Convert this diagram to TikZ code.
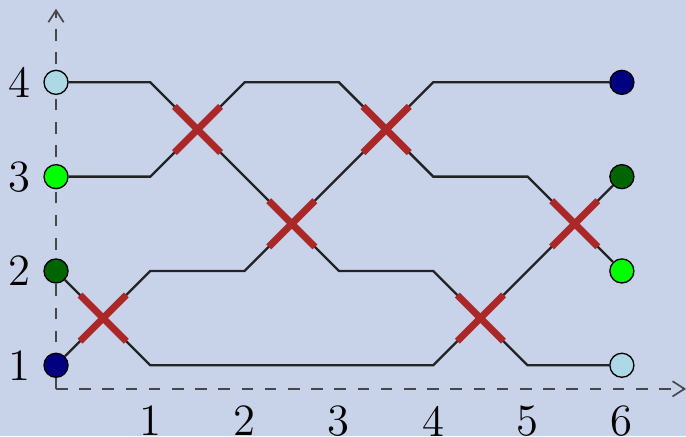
\documentclass[tikz,border=0pt]{standalone}
\usetikzlibrary{arrows.meta,calc}
\definecolor{bgc}{RGB}{200,211,234}
\definecolor{crossred}{RGB}{170,40,40}
\definecolor{axisgray}{RGB}{70,70,75}
\definecolor{wire}{RGB}{35,35,35}
\begin{document}
\begin{tikzpicture}[x=1cm,y=1cm,
  dot/.style={circle,draw=black,line width=0.4pt,inner sep=0pt,minimum size=0.255cm},
  wireline/.style={draw=wire,line width=0.7pt,line join=miter},
  crossbar/.style={draw=crossred,line width=2.1pt},
  axisline/.style={draw=axisgray,line width=0.5pt,dash pattern=on 3.5pt off 3.5pt,-{Straight Barb[length=3.6pt,width=4.6pt]}},
  lab/.style={font=\fontsize{13.5}{15}\selectfont,inner sep=0pt}]
\fill[bgc] (-0.594,0.25) rectangle (6.68,4.873);
\useasboundingbox (-0.594,0.25) rectangle (6.68,4.873);
% axes
\coordinate (o) at (0,0.75);
\coordinate (xe) at (6.68,0.75);
\coordinate (ye) at (0,4.78);
\draw[axisline] (o) -- (xe);
\draw[axisline] (o) -- (ye);
% labels
\foreach \i in {1,...,4} \node[lab] (yl\i) at (-0.39,\i) {\i};
\foreach \i in {1,...,6} \node[lab] (xl\i) at (\i,0.41) {\i};
% grid coordinates
\foreach \x in {1,...,5} \foreach \y in {1,...,4} \coordinate (p\x\y) at (\x,\y);
% endpoint nodes
\node[dot,fill={rgb,255:red,173;green,216;blue,230}] (L4) at (0,4) {};
\node[dot,fill={rgb,255:red,0;green,255;blue,0}] (L3) at (0,3) {};
\node[dot,fill={rgb,255:red,0;green,100;blue,0}] (L2) at (0,2) {};
\node[dot,fill={rgb,255:red,0;green,0;blue,128}] (L1) at (0,1) {};
\node[dot,fill={rgb,255:red,0;green,0;blue,128}] (R4) at (6,4) {};
\node[dot,fill={rgb,255:red,0;green,100;blue,0}] (R3) at (6,3) {};
\node[dot,fill={rgb,255:red,0;green,255;blue,0}] (R2) at (6,2) {};
\node[dot,fill={rgb,255:red,173;green,216;blue,230}] (R1) at (6,1) {};
% wires
\draw[wireline] (L4) -- (p14) -- (p23) -- (p32) -- (p42) -- (p51) -- (R1);
\draw[wireline] (L3) -- (p13) -- (p24) -- (p34) -- (p43) -- (p53) -- (R2);
\draw[wireline] (L2) -- (p11) -- (p41) -- (p52) -- (R3);
\draw[wireline] (L1) -- (p12) -- (p22) -- (p33) -- (p44) -- (R4);
% crosses
\foreach \n/\cx/\cy in {c1/0.5/1.5,c2/1.5/3.5,c3/2.5/2.5,c4/3.5/3.5,c5/4.5/1.5,c6/5.5/2.5}{
  \coordinate (\n) at (\cx,\cy);
  \draw[crossbar] ($(\n)+(-0.245,-0.245)$) -- ($(\n)+(0.245,0.245)$);
  \draw[crossbar] ($(\n)+(-0.245,0.245)$) -- ($(\n)+(0.245,-0.245)$);
}
\end{tikzpicture}
\end{document}
